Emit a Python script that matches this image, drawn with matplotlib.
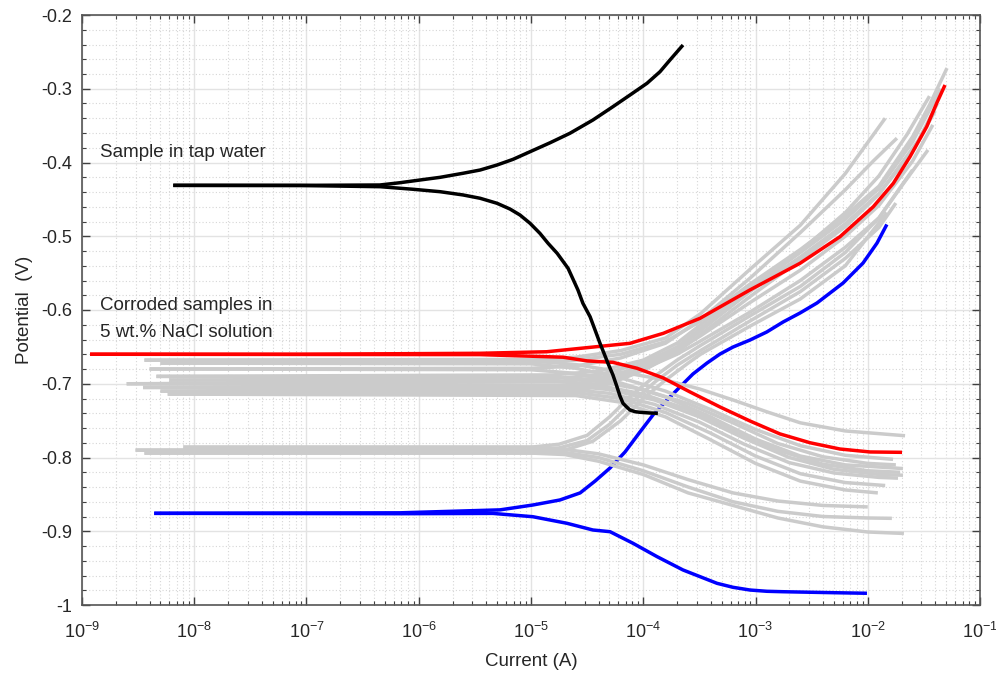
import matplotlib
matplotlib.use("Agg")
import matplotlib.pyplot as plt
from matplotlib.ticker import LogLocator, MultipleLocator, NullFormatter

plt.rcParams['font.family'] = ['Liberation Sans', 'DejaVu Sans']
plt.rcParams['mathtext.fontset'] = 'custom'
plt.rcParams['mathtext.rm'] = 'Liberation Sans'
plt.rcParams['mathtext.it'] = 'Liberation Sans:italic'
plt.rcParams['mathtext.default'] = 'regular'

# ---------------- data ----------------
# Black: sample in tap water
black_an_I = [6.5e-9, 8.75e-8, 4.5e-7, 6.81e-7, 1.03e-6, 1.55e-6, 2.48e-6, 3.52e-6, 4.98e-6, 6.92e-6, 9.8e-6,
              1.48e-5, 2.22e-5, 3.56e-5, 5.37e-5, 7.62e-5, 1.08e-4, 1.41e-4, 1.73e-4, 2.26e-4]
black_an_V = [-0.431, -0.431, -0.4305, -0.4274, -0.4237, -0.4201, -0.4146, -0.4102, -0.4034, -0.3957, -0.3854,
              -0.3732, -0.3604, -0.3424, -0.3243, -0.3085, -0.2926, -0.2769, -0.2610, -0.2407]
black_ca_I = [6.5e-9, 8.75e-8, 4.52e-7, 8.9e-7, 1.55e-6, 2.48e-6, 3.52e-6, 4.98e-6, 6.5e-6, 7.98e-6, 9.8e-6,
              1.2e-5, 1.42e-5, 1.71e-5, 2.14e-5, 2.62e-5, 2.9e-5, 3.36e-5, 3.72e-5, 4.12e-5, 4.47e-5, 4.85e-5,
              5.37e-5, 5.83e-5, 6.2e-5, 6.6e-5, 7.16e-5, 7.62e-5, 8.45e-5, 9.35e-5, 1.15e-4, 1.35e-4]
black_ca_V = [-0.431, -0.4312, -0.4328, -0.4363, -0.4396, -0.444, -0.4485, -0.4553, -0.4631, -0.4712, -0.4824,
              -0.4960, -0.5096, -0.5231, -0.5435, -0.5729, -0.5909, -0.6091, -0.6271, -0.6452, -0.6587, -0.6723,
              -0.6881, -0.7040, -0.7166, -0.7265, -0.7319, -0.7356, -0.7379, -0.7387, -0.7397, -0.7401]

# Red: highlighted corroded sample
red_an_I = [1.18e-9, 8.75e-8, 3.5e-6, 1.38e-5, 2.74e-5, 7.6e-5, 1.51e-4, 3.2e-4, 8.9e-4, 2.49e-3, 5.66e-3,
            1.12e-2, 1.69e-2, 2.38e-2, 3.35e-2, 4.11e-2, 4.88e-2]
red_an_V = [-0.660, -0.660, -0.6587, -0.6566, -0.652, -0.6452, -0.6316, -0.6113, -0.5729, -0.5367, -0.5006,
            -0.460, -0.4282, -0.3921, -0.3515, -0.3197, -0.2949]
red_ca_I = [1.18e-9, 3.5e-6, 1.93e-5, 3.16e-5, 5.37e-5, 8.8e-5, 1.5e-4, 2.6e-4, 4.83e-4, 8.93e-4, 1.65e-3,
            3.06e-3, 5.66e-3, 1.05e-2, 2.02e-2]
red_ca_V = [-0.660, -0.6605, -0.664, -0.669, -0.671, -0.679, -0.692, -0.711, -0.7315, -0.7505, -0.768,
            -0.780, -0.7885, -0.7925, -0.793]

# Blue: highlighted corroded sample
blue_an_I = [4.4e-9, 6.8e-7, 5.3e-6, 1.04e-5, 1.81e-5, 2.74e-5, 3.72e-5, 5.06e-5, 6.88e-5, 9.35e-5, 1.22e-4,
             1.63e-4, 2.12e-4, 2.77e-4, 3.7e-4, 4.83e-4, 6.31e-4, 8.93e-4, 1.26e-3, 1.76e-3, 2.49e-3, 3.53e-3,
             6.03e-3, 9.08e-3, 1.21e-2, 1.48e-2]
blue_an_V = [-0.8757, -0.875, -0.871, -0.8644, -0.8576, -0.848, -0.832, -0.8142, -0.7925, -0.7654, -0.7424,
             -0.722, -0.7044, -0.6868, -0.6719, -0.6597, -0.6502, -0.6407, -0.6298, -0.6163, -0.6041, -0.5905,
             -0.5634, -0.5363, -0.5092, -0.484]
blue_ca_I = [4.4e-9, 6.8e-7, 4.58e-6, 1.04e-5, 2.09e-5, 3.56e-5, 5.06e-5, 8.1e-5, 1.33e-4, 2.26e-4, 4.54e-4,
             6.31e-4, 8.93e-4, 1.26e-3, 1.76e-3, 4.9e-3, 9.84e-3]
blue_ca_V = [-0.8757, -0.8762, -0.8758, -0.8803, -0.8892, -0.8983, -0.9006, -0.9163, -0.9345, -0.9525, -0.9706,
             -0.976, -0.9797, -0.9814, -0.982, -0.9833, -0.9841]

# Gray: other corroded samples in 5 wt.% NaCl
gray_ecorr = [-0.668, -0.672, -0.680, -0.690, -0.695, -0.700, -0.705, -0.710, -0.714, -0.786, -0.790, -0.794]
gray_left_I = [3.6e-9, 5e-9, 4.0e-9, 4.6e-9, 6e-9, 2.5e-9, 3.5e-9, 5e-9, 5.8e-9, 8e-9, 3.0e-9, 3.6e-9]
gray_an_I = [
    [1.0e-5, 2.51e-5, 6.31e-5, 1.58e-4, 3.24e-4, 8.91e-4, 2.51e-3, 6.31e-3, 1.43e-2],
    [1.0e-5, 2.51e-5, 6.31e-5, 1.58e-4, 3.24e-4, 8.91e-4, 2.51e-3, 6.31e-3, 1.26e-2, 2.51e-2, 3.55e-2, 5.08e-2],
    [1.0e-5, 2.51e-5, 6.31e-5, 1.58e-4, 3.24e-4, 8.91e-4, 2.51e-3, 6.31e-3, 1.12e-2, 1.82e-2],
    [1.58e-5, 3.98e-5, 1.0e-4, 2.0e-4, 3.24e-4, 8.91e-4, 2.51e-3, 6.31e-3, 1.26e-2, 2.51e-2, 4.47e-2],
    [1.58e-5, 3.98e-5, 1.0e-4, 2.0e-4, 3.24e-4, 8.91e-4, 2.51e-3, 6.31e-3, 1.26e-2, 2.51e-2, 3.98e-2],
    [2.0e-5, 5.01e-5, 1.0e-4, 2.0e-4, 3.24e-4, 8.91e-4, 2.51e-3, 6.31e-3, 1.26e-2, 2.51e-2, 3.8e-2],
    [2.0e-5, 5.01e-5, 1.0e-4, 2.0e-4, 3.24e-4, 8.91e-4, 2.51e-3, 6.31e-3, 1.26e-2, 2.24e-2, 3.55e-2],
    [2.51e-5, 5.01e-5, 1.0e-4, 2.0e-4, 3.24e-4, 8.91e-4, 2.51e-3, 6.31e-3, 1.26e-2, 2.0e-2, 3.44e-2],
    [2.51e-5, 5.01e-5, 1.0e-4, 2.0e-4, 3.24e-4, 8.91e-4, 2.51e-3, 6.31e-3, 1.26e-2, 2.82e-2, 4.17e-2],
    [1.0e-5, 1.78e-5, 3.16e-5, 5.01e-5, 7.94e-5, 1.26e-4, 2.0e-4, 3.24e-4, 8.91e-4, 2.51e-3, 6.31e-3, 1.26e-2, 2.51e-2],
    [1.0e-5, 1.78e-5, 3.16e-5, 5.01e-5, 7.94e-5, 1.26e-4, 2.0e-4, 3.24e-4, 8.91e-4, 2.51e-3, 6.31e-3, 1.26e-2, 1.78e-2],
    [1.0e-5, 2.0e-5, 3.55e-5, 6.31e-5, 1.0e-4, 1.58e-4, 2.51e-4, 3.24e-4, 8.91e-4, 2.51e-3, 6.31e-3, 1.48e-2],
]
gray_an_V = [
    [-0.667, -0.664, -0.655, -0.638, -0.605, -0.545, -0.485, -0.415, -0.340],
    [-0.671, -0.668, -0.660, -0.643, -0.615, -0.565, -0.518, -0.472, -0.432, -0.365, -0.322, -0.272],
    [-0.679, -0.676, -0.665, -0.645, -0.613, -0.557, -0.495, -0.437, -0.398, -0.367],
    [-0.688, -0.683, -0.668, -0.645, -0.620, -0.570, -0.522, -0.477, -0.435, -0.372, -0.300],
    [-0.693, -0.688, -0.672, -0.650, -0.625, -0.575, -0.528, -0.483, -0.442, -0.385, -0.330],
    [-0.697, -0.690, -0.676, -0.655, -0.635, -0.590, -0.546, -0.500, -0.458, -0.398, -0.349],
    [-0.702, -0.693, -0.677, -0.652, -0.628, -0.575, -0.520, -0.468, -0.418, -0.362, -0.310],
    [-0.706, -0.697, -0.680, -0.660, -0.642, -0.603, -0.560, -0.515, -0.475, -0.432, -0.383],
    [-0.710, -0.700, -0.682, -0.657, -0.633, -0.582, -0.532, -0.487, -0.443, -0.370, -0.320],
    [-0.786, -0.782, -0.770, -0.745, -0.715, -0.690, -0.668, -0.648, -0.608, -0.568, -0.522, -0.475, -0.410],
    [-0.790, -0.787, -0.777, -0.755, -0.725, -0.698, -0.675, -0.655, -0.615, -0.575, -0.530, -0.488, -0.455],
    [-0.794, -0.790, -0.778, -0.750, -0.720, -0.695, -0.672, -0.660, -0.622, -0.585, -0.540, -0.468],
]
gray_ca_I = [
    [1.0e-5, 2.51e-5, 6.31e-5, 1.58e-4, 3.16e-4, 6.31e-4, 1.26e-3, 2.51e-3, 6.31e-3, 2.15e-2],
    [1.0e-5, 2.51e-5, 6.31e-5, 1.58e-4, 3.98e-4, 1.0e-3, 2.51e-3, 6.31e-3, 1.68e-2],
    [1.0e-5, 2.51e-5, 6.31e-5, 1.58e-4, 3.98e-4, 1.0e-3, 2.51e-3, 6.31e-3, 2.06e-2],
    [1.58e-5, 3.98e-5, 1.0e-4, 2.51e-4, 6.31e-4, 1.58e-3, 3.98e-3, 1.0e-2, 1.78e-2],
    [1.58e-5, 3.98e-5, 1.0e-4, 2.51e-4, 6.31e-4, 1.58e-3, 3.98e-3, 1.0e-2, 1.94e-2],
    [2.0e-5, 5.01e-5, 1.26e-4, 3.16e-4, 7.94e-4, 2.0e-3, 5.01e-3, 1.26e-2, 2.06e-2],
    [2.0e-5, 5.01e-5, 1.26e-4, 3.16e-4, 7.94e-4, 2.0e-3, 5.01e-3, 1.26e-2, 1.86e-2],
    [2.51e-5, 6.31e-5, 1.58e-4, 3.98e-4, 1.0e-3, 2.51e-3, 6.31e-3, 1.43e-2],
    [2.51e-5, 6.31e-5, 1.58e-4, 3.98e-4, 1.0e-3, 2.51e-3, 6.31e-3, 1.23e-2],
    [1.0e-5, 1.78e-5, 3.98e-5, 1.0e-4, 2.51e-4, 6.31e-4, 1.58e-3, 3.98e-3, 1.0e-2],
    [1.0e-5, 1.78e-5, 3.98e-5, 1.0e-4, 2.51e-4, 6.31e-4, 1.58e-3, 3.98e-3, 1.0e-2, 1.64e-2],
    [1.0e-5, 2.0e-5, 3.98e-5, 1.0e-4, 2.51e-4, 6.31e-4, 1.58e-3, 3.98e-3, 1.0e-2, 2.1e-2],
]
gray_ca_V = [
    [-0.669, -0.674, -0.684, -0.695, -0.707, -0.722, -0.738, -0.753, -0.764, -0.7705],
    [-0.673, -0.679, -0.692, -0.710, -0.735, -0.762, -0.784, -0.797, -0.8025],
    [-0.681, -0.686, -0.699, -0.718, -0.745, -0.775, -0.798, -0.810, -0.815],
    [-0.691, -0.697, -0.708, -0.727, -0.753, -0.781, -0.799, -0.808, -0.810],
    [-0.696, -0.702, -0.714, -0.735, -0.763, -0.790, -0.809, -0.818, -0.820],
    [-0.702, -0.708, -0.722, -0.745, -0.774, -0.800, -0.816, -0.823, -0.824],
    [-0.707, -0.713, -0.728, -0.752, -0.782, -0.807, -0.821, -0.827, -0.828],
    [-0.712, -0.720, -0.739, -0.767, -0.798, -0.822, -0.834, -0.838],
    [-0.716, -0.725, -0.745, -0.776, -0.808, -0.832, -0.844, -0.848],
    [-0.786, -0.788, -0.795, -0.810, -0.830, -0.848, -0.859, -0.865, -0.867],
    [-0.790, -0.792, -0.800, -0.818, -0.840, -0.860, -0.873, -0.880, -0.882, -0.8825],
    [-0.794, -0.796, -0.805, -0.823, -0.848, -0.865, -0.882, -0.894, -0.901, -0.903],
]

x_limits = [1e-9, 1e-1]
y_limits = [-1.0, -0.2]
y_ticks = [-1.0, -0.9, -0.8, -0.7, -0.6, -0.5, -0.4, -0.3, -0.2]
y_tick_labels = ['-1', '-0.9', '-0.8', '-0.7', '-0.6', '-0.5', '-0.4', '-0.3', '-0.2']

# ---------------- figure ----------------
fig = plt.figure(figsize=(9.96, 6.74), dpi=100)
ax = fig.add_axes([82 / 996, 69 / 674, 898 / 996, 590 / 674])
ax.set_xscale('log')
ax.set_xlim(x_limits)
ax.set_ylim(y_limits)

LW = 2.5
GRAY = '#cbcbcb'
style = dict(lw=LW, solid_capstyle='butt', solid_joinstyle='round')

ax.plot(blue_an_I, blue_an_V, color='#0000ff', zorder=2, **style)
ax.plot(blue_ca_I, blue_ca_V, color='#0000ff', zorder=2, **style)

for ec, li, aI, aV, cI, cV in zip(gray_ecorr, gray_left_I, gray_an_I, gray_an_V, gray_ca_I, gray_ca_V):
    ax.plot([li] + aI, [ec] + aV, color=GRAY, zorder=3, **style)
    ax.plot([li] + cI, [ec] + cV, color=GRAY, zorder=3, **style)

ax.plot(red_an_I, red_an_V, color='#ff0000', zorder=4, **style)
ax.plot(red_ca_I, red_ca_V, color='#ff0000', zorder=4, **style)

ax.plot(black_an_I, black_an_V, color='black', zorder=5, **style)
ax.plot(black_ca_I, black_ca_V, color='black', zorder=5, **style)

# ticks and grid
ax.xaxis.set_major_locator(LogLocator(base=10, numticks=20))
ax.xaxis.set_minor_locator(LogLocator(base=10, subs=[2, 3, 4, 5, 6, 7, 8, 9], numticks=20))
ax.xaxis.set_minor_formatter(NullFormatter())
ax.set_yticks(y_ticks)
ax.set_yticklabels(y_tick_labels)
ax.yaxis.set_minor_locator(MultipleLocator(0.02))

ax.grid(True, which='major', color='#e3e3e3', lw=1.0, ls='-')
ax.grid(True, which='minor', color='#d6d6d6', lw=0.8, ls=(0, (1, 2)))
ax.set_axisbelow(True)

tick_color = '#404040'
ax.tick_params(axis='both', which='both', direction='in', top=True, right=True, colors=tick_color,
               labelcolor='#262626')
ax.tick_params(axis='both', which='major', length=6, width=1.0, labelsize=13)
ax.tick_params(axis='both', which='minor', length=3, width=0.8)
ax.tick_params(axis='x', which='major', pad=12)
ax.tick_params(axis='y', which='major', pad=7)
for sp in ax.spines.values():
    sp.set_color('#555555')
    sp.set_linewidth(1.2)

ax.set_xlabel('Current (A)', fontsize=13.5, color='#262626', labelpad=8)
ax.set_ylabel('Potential  (V)', fontsize=13.5, color='#262626', labelpad=6)

ax.text(1.45e-9, -0.387, 'Sample in tap water', fontsize=13.5, color='#262626', ha='left', va='center')
ax.text(1.45e-9, -0.594, 'Corroded samples in', fontsize=13.5, color='#262626', ha='left', va='center')
ax.text(1.45e-9, -0.630, '5 wt.% NaCl solution', fontsize=13.5, color='#262626', ha='left', va='center')

fig.savefig('out.png', dpi=100)
